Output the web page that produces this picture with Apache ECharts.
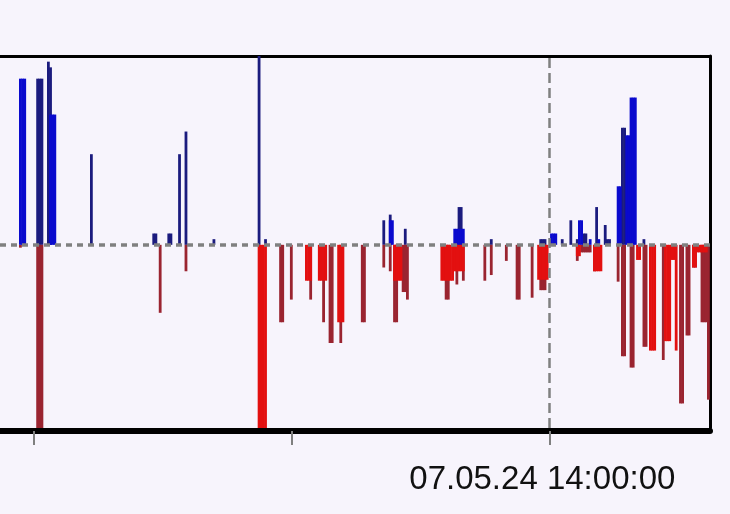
<!DOCTYPE html>
<html><head><meta charset="utf-8">
<script src="https://cdn.jsdelivr.net/npm/echarts@6/dist/echarts.min.js"></script>
<style>html,body{margin:0;padding:0;background:#f7f4fc;}#c{width:730px;height:514px;}</style>
</head><body><div id="c"></div>
<script>
// ---- data ----
const dateLabel = '07.05.24';
const viewStart = '11:52:15';
const viewEnd = '14:37:22';
const tickTimes = ['12:00:00', '13:00:00', '14:00:00'];
const labelTimes = ['14:00:00'];
const markerTime = '14:00:00';
const yMax = 100;
const yMin = -97;

const buyDark = [
  ['12:01:00',88],['12:01:30',88],['12:02:00',88],
  ['12:03:30',97],['12:04:00',94],
  ['12:13:30',48],
  ['12:28:00',6],['12:28:30',6],
  ['12:31:30',6],['12:32:00',6],
  ['12:34:00',48],
  ['12:35:30',60],
  ['12:42:00',3],
  ['12:52:30',100],
  ['12:54:00',3],
  ['13:21:30',13],
  ['13:23:00',16],
  ['13:26:30',8.5],
  ['13:39:00',20],['13:39:30',20],
  ['13:46:30',3],
  ['13:58:00',3],['13:58:30',3],['13:59:00',3],
  ['14:03:00',3],
  ['14:05:00',13],
  ['14:06:30',3],
  ['14:08:00',6],['14:08:30',6],
  ['14:11:00',20],
  ['14:13:00',10.5],
  ['14:13:30',3],['14:14:00',3],
  ['14:17:00',62],['14:17:30',62],
  ['14:22:00',3]
];
const buyBright = [
  ['11:57:00',88],['11:57:30',88],['11:58:00',88],
  ['12:04:00',69],['12:04:30',69],['12:05:00',69],
  ['13:23:00',13],['13:23:30',13],
  ['13:38:00',8.5],['13:38:30',8.5],['13:39:00',8.5],['13:39:30',8.5],['13:40:00',8.5],
  ['14:00:30',6],['14:01:00',6],['14:01:30',6],
  ['14:07:00',13],['14:07:30',13],
  ['14:09:30',3],
  ['14:11:30',3],
  ['14:16:00',31],['14:16:30',31],
  ['14:18:00',58],['14:18:30',58],
  ['14:19:00',78],['14:19:30',78],['14:20:00',78]
];
const sellDark = [
  ['11:57:00',-1.5],
  ['12:01:00',-97],['12:01:30',-97],['12:02:00',-97],
  ['12:29:30',-36],
  ['12:35:30',-14],
  ['12:57:30',-41],['12:58:00',-41],
  ['13:00:00',-29],
  ['13:04:30',-29],
  ['13:07:30',-41],
  ['13:09:00',-52],['13:09:30',-52],
  ['13:11:30',-52],
  ['13:16:30',-41],['13:17:00',-41],
  ['13:21:30',-12],
  ['13:23:00',-14],
  ['13:24:00',-41],['13:24:30',-41],
  ['13:26:00',-25],['13:26:30',-25],['13:27:00',-29],
  ['13:36:00',-29],['13:36:30',-29],
  ['13:38:30',-21],
  ['13:40:00',-19],
  ['13:45:00',-19],
  ['13:46:30',-16],
  ['13:50:00',-8.5],
  ['13:52:30',-29],['13:53:00',-29],
  ['13:56:00',-28],
  ['13:58:00',-24],['13:58:30',-24],['13:59:00',-24],
  ['14:06:30',-8.5],
  ['14:07:30',-4],['14:08:00',-4],['14:08:30',-4],['14:09:00',-4],['14:09:30',-4],
  ['14:10:30',-14],
  ['14:16:00',-19.5],
  ['14:17:00',-59],['14:17:30',-59],
  ['14:19:00',-65],['14:19:30',-65],
  ['14:22:00',-54],['14:22:30',-54],
  ['14:26:30',-61],
  ['14:30:30',-84],['14:31:00',-84],
  ['14:32:00',-48],['14:32:30',-48],
  ['14:33:30',-12],['14:34:00',-12],
  ['14:35:30',-41],['14:36:00',-41],['14:36:30',-41],
  ['14:37:00',-82]
];
const sellBright = [
  ['12:52:30',-97],['12:53:00',-97],['12:53:30',-97],['12:54:00',-97],
  ['13:03:30',-19],['13:04:00',-19],['13:04:30',-19],
  ['13:06:30',-19],['13:07:00',-19],['13:07:30',-19],['13:08:00',-19],
  ['13:11:00',-41],['13:11:30',-41],['13:12:00',-41],
  ['13:24:00',-19],['13:24:30',-19],['13:25:00',-19],['13:25:30',-19],
  ['13:35:00',-19],['13:35:30',-19],['13:36:00',-19],['13:36:30',-19],['13:37:00',-19],['13:37:30',-19],
  ['13:38:00',-14],['13:38:30',-14],['13:39:00',-14],['13:39:30',-14],['13:40:00',-14],
  ['13:57:30',-18.5],['13:58:00',-18.5],['13:58:30',-18.5],['13:59:00',-18.5],['13:59:30',-18.5],
  ['14:06:30',-6],['14:07:00',-6],
  ['14:10:30',-14],['14:11:00',-14],['14:11:30',-14],['14:12:00',-14],
  ['14:20:30',-8],['14:21:00',-8],
  ['14:23:30',-56],['14:24:00',-56],['14:24:30',-56],
  ['14:27:00',-51],['14:27:30',-51],['14:28:00',-51],
  ['14:28:30',-8],['14:29:00',-8],
  ['14:29:30',-56],
  ['14:33:30',-12],['14:34:00',-12],
  ['14:34:30',-4],['14:35:00',-4],['14:35:30',-4],['14:36:00',-4],['14:36:30',-4]
];

// ---- helpers ----
function toMin(s){ const p = s.split(':').map(Number); return p[0]*60 + p[1] + p[2]/60; }
function fmt(m){
  const tot = Math.round(m*60);
  const h = Math.floor(tot/3600), mi = Math.floor((tot%3600)/60), se = tot%60;
  const z = n => String(n).padStart(2,'0');
  return z(h)+':'+z(mi)+':'+z(se);
}
const conv = arr => arr.map(d => [toMin(d[0]), d[1]]);

const xMin = toMin(viewStart), xMax = toMin(viewEnd);
const barCommon = { type:'bar', barWidth:2.8, barGap:'-100%', xAxisIndex:0, yAxisIndex:0 };

const chart = echarts.init(document.getElementById('c'), null, {renderer:'canvas'});
chart.setOption({
  animation:false,
  backgroundColor:'#f7f4fc',
  grid:{ left:0, right:20, top:56, bottom:86, containLabel:false },
  xAxis:[{
    type:'value', min:xMin, max:xMax, position:'bottom', offset:3,
    axisLine:{ show:true, onZero:false, lineStyle:{ color:'#000', width:6 } },
    axisTick:{ show:true, customValues: tickTimes.map(toMin), length:14, lineStyle:{ color:'#7f7f7f', width:2 } },
    axisLabel:{ show:true, customValues: labelTimes.map(toMin), margin:32,
      padding:[0,14,0,0],
      formatter: v => dateLabel + ' ' + fmt(v),
      color:'#111', fontSize:33, fontFamily:'"Liberation Sans", Arial, sans-serif' },
    splitLine:{ show:false }
  },{
    type:'value', min:xMin, max:xMax, position:'top',
    axisLine:{ show:true, onZero:false, lineStyle:{ color:'#000', width:3 } },
    axisTick:{ show:false }, axisLabel:{ show:false }, splitLine:{ show:false }
  }],
  yAxis:{
    type:'value', min:yMin, max:yMax, position:'right',
    axisLine:{ show:true, onZero:false, lineStyle:{ color:'#000', width:3 } },
    axisTick:{ show:false }, axisLabel:{ show:false }, splitLine:{ show:false }
  },
  series:[
    { ...barCommon, name:'buy2', data:conv(buyDark), itemStyle:{ color:'#1b1b7e' } },
    { ...barCommon, name:'sell2', data:conv(sellDark), itemStyle:{ color:'#9a2430' } },
    { ...barCommon, name:'buy1', data:conv(buyBright), itemStyle:{ color:'#0a0ace' } },
    { ...barCommon, name:'sell1', data:conv(sellBright), itemStyle:{ color:'#e31010' } },
    { type:'line', data:[], z:5, xAxisIndex:0, yAxisIndex:0,
      markLine:{ silent:true, symbol:['none','none'], label:{ show:false },
        data:[
          { yAxis:0, lineStyle:{ color:'#808080', width:3.5, type:[6,5] } },
          { xAxis: toMin(markerTime), lineStyle:{ color:'#808080', width:2.5, type:[10,5] } }
        ] } }
  ]
});
</script>
</body></html>
